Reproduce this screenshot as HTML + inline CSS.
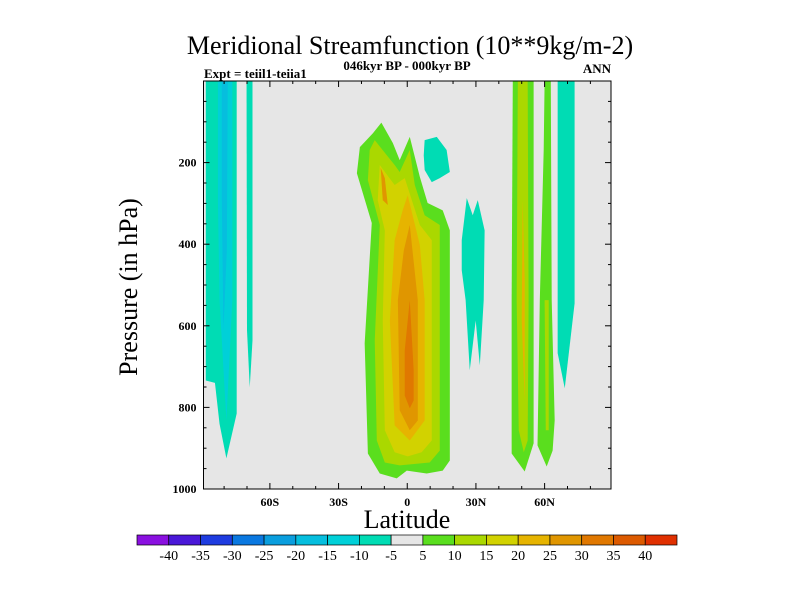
<!DOCTYPE html>
<html><head><meta charset="utf-8"><style>
body{margin:0;background:#fff}
svg text{font-family:"Liberation Serif",serif}
</style></head><body>
<svg id="c" width="800" height="600" xmlns="http://www.w3.org/2000/svg">
<rect width="800" height="600" fill="#fff"/>
<text x="410" y="54" font-size="26" text-anchor="middle">Meridional Streamfunction (10**9kg/m-2)</text>
<text x="407" y="70" font-size="13" font-weight="bold" text-anchor="middle">046kyr BP - 000kyr BP</text>
<text x="204" y="78" font-size="13" font-weight="bold">Expt = teiil1-teiia1</text>
<text x="611" y="73" font-size="13" font-weight="bold" text-anchor="end">ANN</text>
<g id="plot"></g>
<g id="axes"></g>
<text x="407" y="528" font-size="26" text-anchor="middle">Latitude</text>
<text transform="translate(137,287) rotate(-90)" font-size="26" text-anchor="middle">Pressure (in hPa)</text>
<g id="cbar"></g>
</svg>
<script>
const xTicks=[-60,-30,0,30,60];
const xTickLabels=["60S","30S","0","30N","60N"];
const yTicks=[200,400,600,800,1000];
const cbLabels=[-40,-35,-30,-25,-20,-15,-10,-5,5,10,15,20,25,30,35,40];
const cbColors=["#8a10e0","#4a18d8","#1e3ce0","#0a78e0","#0a9ede","#06bede","#00d0d8","#00dcb4","#e6e6e6","#5ade1e","#aad800","#d2d200","#e6b400","#e09600","#e07800","#dc5a00","#e03000"];
const contourLevels=[-10,-15,-20,-10,5,10,15,20,25,30,25,-10,-10,5,10,20,5,10,-10];
const contourPolys=[
 [[-88,0],[-74.5,0],[-74.5,815],[-79,925],[-82,840],[-84,740],[-88,734]],
 [[-82.7,0],[-76.4,0],[-76.4,537],[-79,832],[-82,537],[-82.7,292]],
 [[-81,0],[-78.4,0],[-78.8,415],[-80.3,611],[-81,292]],
 [[-70.2,0],[-67.6,0],[-67.6,636],[-68.8,751],[-70,611]],
 [[-11.3,102],[-6.3,152],[-3.3,194],[1.1,137],[5.5,235],[8.9,299],[15.5,317],[18.6,366],[18.6,930],[15.5,955],[8.5,962],[-0.2,955],[-4.6,974],[-12,962],[-17.2,913],[-18.6,643],[-15.5,348],[-22,226],[-20.7,162],[-15,128]],
 [[-14.2,145],[-5.5,206],[-3.3,223],[1.1,169],[3.3,255],[7.6,329],[14.2,353],[14.2,906],[9.8,935],[-3.3,942],[-9.8,935],[-13.3,881],[-14.2,636],[-12,353],[-17.2,243],[-16.4,169]],
 [[-12,206],[-5.5,255],[-1.1,238],[5.5,353],[10.7,390],[10.7,881],[6.3,910],[0.2,920],[-5.5,910],[-9.8,856],[-10.7,587],[-9.8,366],[-12.9,292]],
 [[0.2,280],[5.5,402],[7.6,537],[7.6,832],[1.1,881],[-5.5,844],[-7.6,587],[-5.5,390],[-2,317]],
 [[1.1,353],[4.6,537],[4.6,832],[1.1,856],[-3.3,807],[-4.1,537],[-1.5,415]],
 [[1.1,537],[2.8,709],[2.8,783],[1.1,802],[-1.1,771],[-1.1,660]],
 [[-11.6,213],[-9.8,238],[-8.5,304],[-10.7,292]],
 [[7.6,145],[12.9,137],[17.2,169],[18.6,223],[14.2,238],[10.7,248],[7.6,218],[7.2,182]],
 [[23.8,390],[26,287],[28.6,329],[30.8,292],[33.8,366],[33.4,537],[31.7,697],[29.9,587],[27.3,709],[25.5,537],[23.8,464]],
 [[46.1,0],[55.2,0],[55.2,888],[51.3,957],[45.6,913],[45.6,537]],
 [[48.3,0],[52.6,0],[53,537],[52.6,881],[50.9,910],[48.7,856],[47.8,537]],
 [[50.4,292],[51.3,488],[51.3,783],[50,587]],
 [[60,0],[62.7,0],[63.1,537],[64.4,832],[63.5,906],[60.9,945],[56.9,893],[57.9,537],[59.6,169]],
 [[60,537],[61.8,537],[61.8,856],[60.5,856]],
 [[65.7,0],[73.1,0],[73.1,545],[68.8,753],[65.7,667]]
];
const X0=203.5,X1=611,Y0=81,Y1=489,LMIN=-89,LMAX=89,PMIN=0,PMAX=1000;
const xs=v=>X0+(v-LMIN)/(LMAX-LMIN)*(X1-X0);
const ys=v=>Y0+(v-PMIN)/(PMAX-PMIN)*(Y1-Y0);
const NS="http://www.w3.org/2000/svg";
function mk(t,a,p){const e=document.createElementNS(NS,t);for(const k in a)e.setAttribute(k,a[k]);p.appendChild(e);return e;}
function colorFor(l){if(l<0){const i=Math.floor((l+45)/5);return cbColors[Math.max(0,Math.min(7,i))];}const i=8+Math.ceil(l/5);return cbColors[Math.min(16,i)];}
const plot=document.getElementById('plot');
const bg=mk('rect',{x:X0,y:Y0,width:X1-X0,height:Y1-Y0,fill:'#e6e6e6'},plot);


contourPolys.forEach((poly,i)=>{
 const p=mk('polygon',{points:poly.map(q=>xs(q[0])+','+ys(q[1])).join(' '),fill:colorFor(contourLevels[i])},plot);
 
 
});
const ax=document.getElementById('axes');
const fr=mk('rect',{x:X0,y:Y0,width:X1-X0,height:Y1-Y0,fill:'none',stroke:'#000','stroke-width':1},ax);


for(let l=-80;l<=80;l+=10){const maj=l%30===0;const L=maj?6:3;const x=xs(l);
 mk('line',{x1:x,y1:Y1,x2:x,y2:Y1-L,stroke:'#000'},ax);mk('line',{x1:x,y1:Y0,x2:x,y2:Y0+L,stroke:'#000'},ax);}
xTicks.forEach((v,i)=>{const t=mk('text',{x:xs(v),y:Y1+17,'font-size':12,'font-weight':'bold','text-anchor':'middle'},ax);t.textContent=xTickLabels[i];
 
 });
for(let p=50;p<1000;p+=50){const maj=p%200===0;const L=maj?6:3;const y=ys(p);
 mk('line',{x1:X0,y1:y,x2:X0+L,y2:y,stroke:'#000'},ax);mk('line',{x1:X1,y1:y,x2:X1-L,y2:y,stroke:'#000'},ax);}
yTicks.forEach(v=>{const t=mk('text',{x:X0-7,y:ys(v)+4,'font-size':12,'font-weight':'bold','text-anchor':'end'},ax);t.textContent=v;
 
 });
const cb=document.getElementById('cbar');const CX=137,CW=540/17,CY=535,CH=10;
cbColors.forEach((c,i)=>{const r=mk('rect',{x:CX+i*CW,y:CY,width:CW,height:CH,fill:c,stroke:'#000','stroke-width':0.7},cb);
 
 });
cbLabels.forEach((v,i)=>{const t=mk('text',{x:CX+(i+1)*CW,y:CY+25,'font-size':14,'text-anchor':'middle'},cb);t.textContent=v;
 
 });
</script>
</body></html>
